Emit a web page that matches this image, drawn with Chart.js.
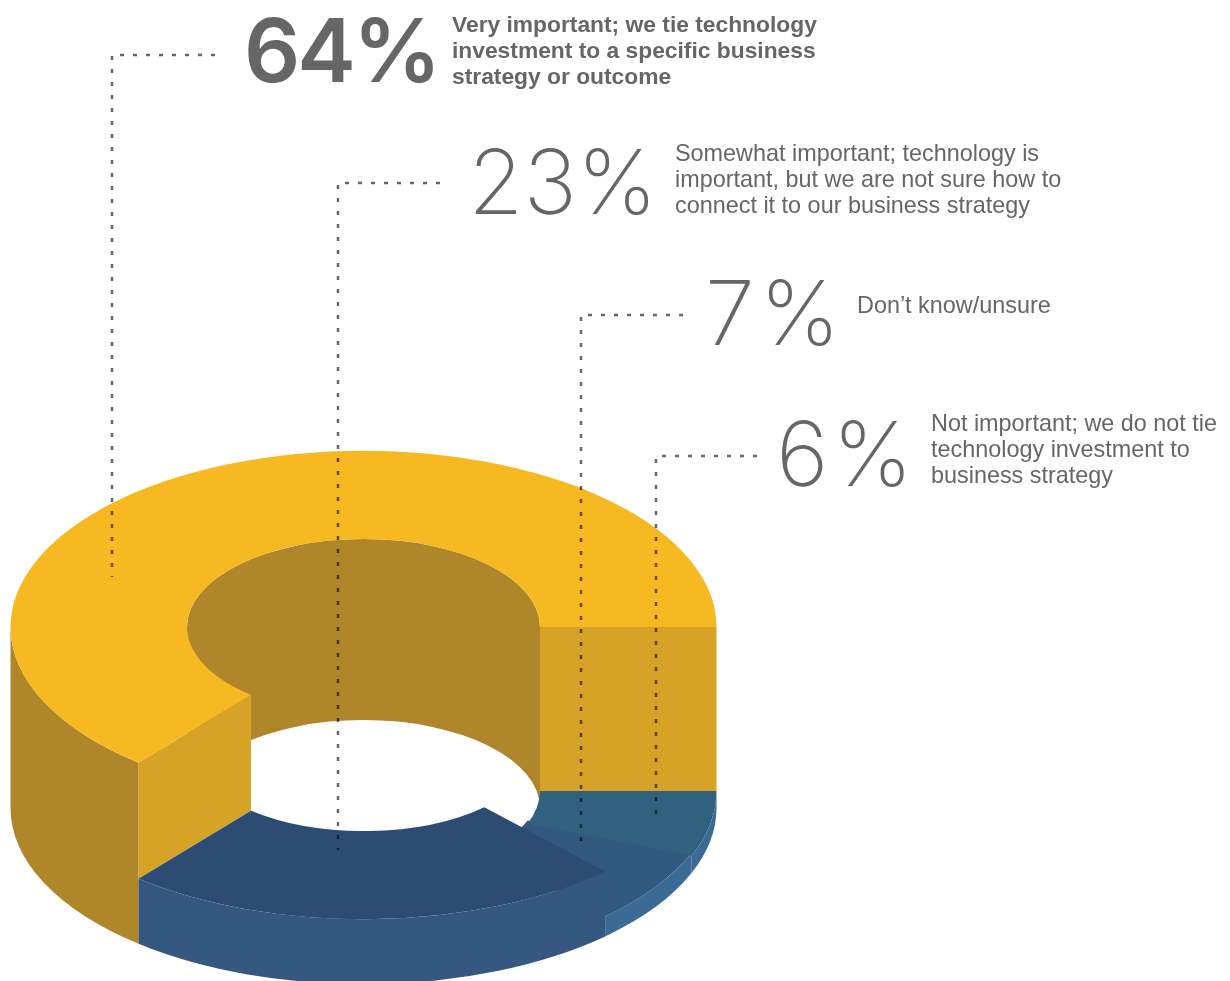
<!DOCTYPE html>
<html>
<head>
<meta charset="utf-8">
<title>Technology investment and business strategy</title>
<script src="https://cdn.jsdelivr.net/npm/chart.js@4"></script>
<style>
  html, body { margin: 0; padding: 0; background: #fff; }
  canvas { display: block; }
</style>
</head>
<body>
<canvas id="ring" width="1230" height="981"></canvas>
<script>
// slices run clockwise from the cut at lower left
const categories = [
  'Very important; we tie technology investment to a specific business strategy or outcome',
  'Not important; we do not tie technology investment to business strategy',
  'Don\u2019t know/unsure',
  'Somewhat important; technology is important, but we are not sure how to connect it to our business strategy'
]
const values = [64, 6, 7, 23]

const categoryLines = [
  ['Very important; we tie technology', 'investment to a specific business', 'strategy or outcome'],
  ['Not important; we do not tie', 'technology investment to', 'business strategy'],
  ['Don\u2019t know/unsure'],
  ['Somewhat important; technology is', 'important, but we are not sure how to', 'connect it to our business strategy']
]

const topColors = ['#f6b922', '#31617f', '#325a80', '#2c4c74']
const wallColors = ['#b0862b', '#3b6a96', '#3b6a96', '#34587f']

// look of the tilted ring
const squash = 0.499
const baseDrop = 181
const sliceDrop = [0, 164, 161, 116]
const backWall = '#b0862b'
const cutWall = '#d7a327'

// where each label goes
const labelPos = [
  { numX: 244, numY: 82, gap: -3, textX: 452, textY: 32, bold: true, lead: [215, 55, 112, 577] },
  { numX: 776, numY: 486, gap: 4, textX: 931, textY: 431, lead: [757, 456, 656, 820] },
  { numX: 705, numY: 345, gap: 5, textX: 857, textY: 313, lead: [683, 315, 581, 849] },
  { numX: 468, numY: 214, gap: 0, textX: 675, textY: 161, lead: [440, 183, 338, 850] }
]

const ringPlugin = {
  id: 'ring3d',
  beforeDatasetsDraw (chart) {
    const ctx = chart.ctx
    const arcs = chart.getDatasetMeta(0).data
    const { x: cx, y: cy, outerRadius: outer, innerRadius: inner } = arcs[0]
    const TAU = Math.PI * 2

    const point = (angle, r, drop) =>
      [cx + r * Math.cos(angle), cy + squash * r * Math.sin(angle) + drop]

    // band between the same arc at two drops
    const band = (r, from, to, dropA, dropB, color) => {
      ctx.beginPath()
      ctx.ellipse(cx, cy + dropA, r, r * squash, 0, from, to)
      ctx.ellipse(cx, cy + dropB, r, r * squash, 0, to, from, true)
      ctx.closePath()
      ctx.fillStyle = color
      ctx.fill()
    }

    const cut = (angle, dropA, dropB, color) => {
      const pts = [
        point(angle, inner, dropA), point(angle, outer, dropA),
        point(angle, outer, dropB), point(angle, inner, dropB)
      ]
      ctx.beginPath()
      pts.forEach(p => ctx.lineTo(p[0], p[1]))
      ctx.closePath()
      ctx.fillStyle = color
      ctx.fill()
    }

    const top = (arc, i) => {
      ctx.save()
      ctx.translate(0, cy + sliceDrop[i])
      ctx.scale(1, squash)
      ctx.translate(0, -cy)
      arc.draw(ctx)
      ctx.restore()
    }

    const outerWall = (arc, i) => {
      const start = arc.startAngle % TAU
      const end = start + (arc.endAngle - arc.startAngle)
      const from = Math.max(start, 0)
      const to = Math.min(end, Math.PI)
      if (to > from) band(outer, from, to, sliceDrop[i], baseDrop, wallColors[i])
    }

    // inside of the ring behind the hole
    band(inner, Math.PI, TAU, 0, baseDrop, backWall)

    // the two cut faces of the big slice
    cut(arcs[0].startAngle, 0, sliceDrop[3], cutWall)
    cut(arcs[0].endAngle, 0, sliceDrop[1], cutWall)

    // big slice first, the lower ones step down in front of it
    ;[0, 2, 1, 3].forEach(i => {
      outerWall(arcs[i], i)
      top(arcs[i], i)
    })
    return false
  },
  afterDraw (chart) {
    const ctx = chart.ctx
    ctx.save()
    values.forEach((value, i) => {
      const pos = labelPos[i]
      // dotted leader, darkens what it crosses
      const [x0, y0, x1, y1] = pos.lead
      ctx.save()
      ctx.globalCompositeOperation = 'multiply'
      ctx.strokeStyle = '#666'
      ctx.lineWidth = 2.5
      ctx.setLineDash([4, 9])
      ctx.beginPath()
      ctx.moveTo(x0, y0)
      ctx.lineTo(x1, y0)
      ctx.lineTo(x1, y1)
      ctx.stroke()
      ctx.restore()

      ctx.fillStyle = '#666'
      ctx.textAlign = 'left'
      ctx.textBaseline = 'alphabetic'
      ctx.font = pos.bold ? '600 88px Inter' : '200 90px Inter'
      ctx.letterSpacing = pos.gap + 'px'
      ctx.fillText(value + '%', pos.numX, pos.numY)

      ctx.letterSpacing = '0px'
      ctx.font = pos.bold ? 'bold 22.8px "Liberation Sans"' : '23.4px "Liberation Sans"'
      categoryLines[i].forEach((line, n) => {
        ctx.fillText(line, pos.textX, pos.textY + n * 26)
      })
    })
    ctx.restore()
  }
}

new Chart(document.getElementById('ring'), {
  type: 'doughnut',
  data: {
    labels: categories,
    datasets: [{
      data: values,
      backgroundColor: topColors,
      borderWidth: 0
    }]
  },
  options: {
    responsive: false,
    animation: false,
    rotation: 219.6,
    cutout: '50%',
    layout: { padding: { left: 10, right: 513, top: 274, bottom: 1 } },
    plugins: { legend: { display: false }, tooltip: { enabled: false } }
  },
  plugins: [ringPlugin]
})
</script>
</body>
</html>
